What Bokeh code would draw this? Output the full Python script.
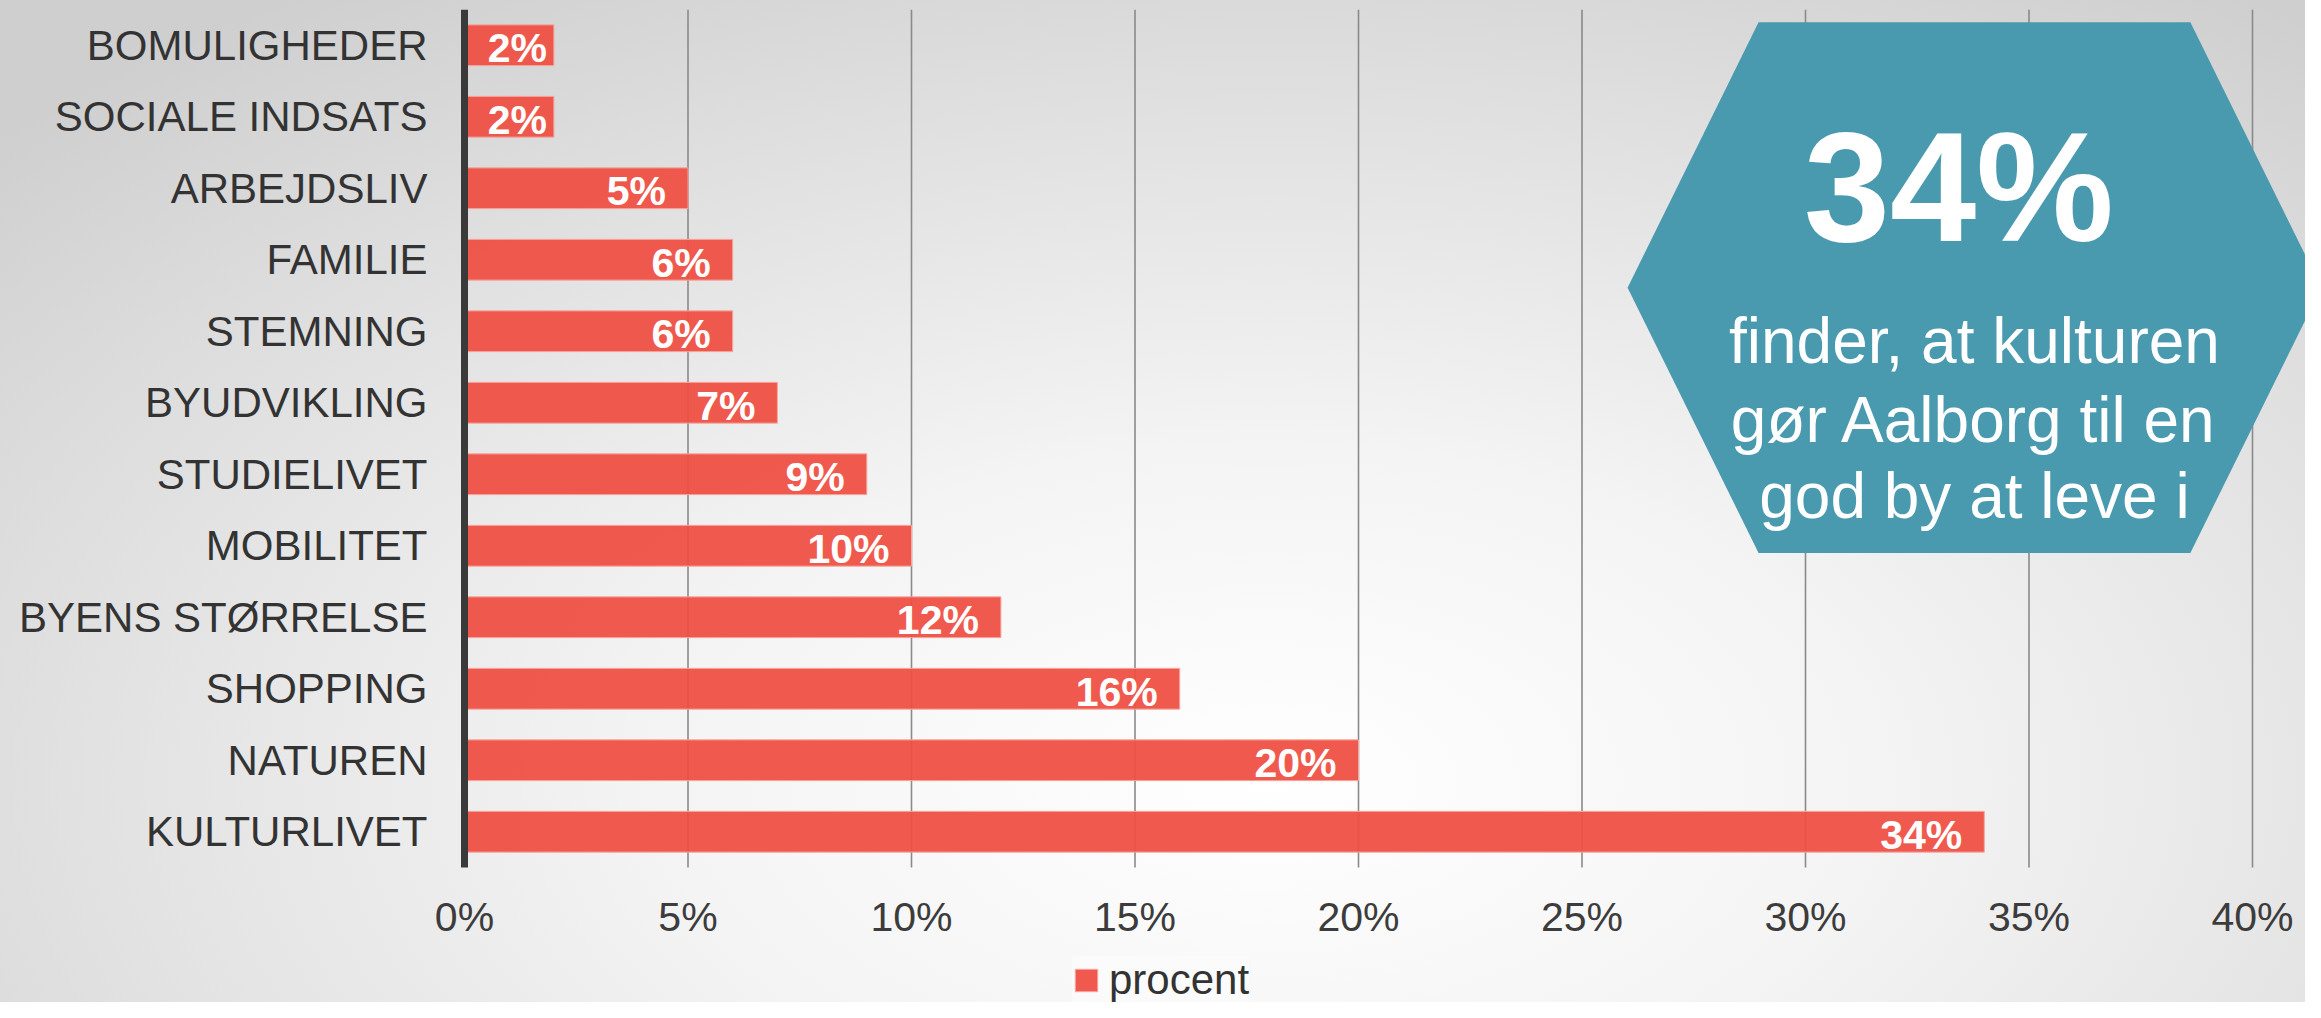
from bokeh.plotting import figure
from bokeh.models import Range1d, FixedTicker, Legend, LegendItem, ColumnDataSource
from bokeh.core.properties import value
from bokeh.embed import file_html
from bokeh.resources import INLINE

# ---------------- data ----------------
categories = ["KULTURLIVET", "NATUREN", "SHOPPING", "BYENS STØRRELSE", "MOBILITET",
              "STUDIELIVET", "BYUDVIKLING", "STEMNING", "FAMILIE", "ARBEJDSLIV",
              "SOCIALE INDSATS", "BOMULIGHEDER"]
percent = [34, 20, 16, 12, 10, 9, 7, 6, 6, 5, 2, 2]
x_ticks = [0, 5, 10, 15, 20, 25, 30, 35, 40]
x_tick_labels = ["0%", "5%", "10%", "15%", "20%", "25%", "30%", "35%", "40%"]
series_name = "procent"
callout_value = "34%"
callout_lines = ["finder, at kulturen", "gør Aalborg til en", "god by at leve i"]

# ---------------- layout ----------------
W, H = 2305, 1002
AXIS_X = 464          # pixel position of the 0% line
LABEL_RIGHT = 427     # right edge of category labels
FRAME_LEFT = 420
FRAME_TOP = 9
PX_PER_PCT = 44.7
PX_PER_ROW = 71.5
FONT = "Liberation Sans"
BAR_RED = "#EF5043"
TEAL = "#4A9AAF"

n = len(categories)
x_start = -(AXIS_X - FRAME_LEFT) / PX_PER_PCT
x_end = (W - AXIS_X) / PX_PER_PCT
y_top = n - 0.5
y_bottom = y_top - (H - FRAME_TOP) / PX_PER_ROW

p = figure(width=W, height=H, output_backend="svg", toolbar_location=None,
           x_range=Range1d(x_start, x_end), y_range=Range1d(y_bottom, y_top),
           min_border_left=FRAME_LEFT, min_border_right=0,
           min_border_top=FRAME_TOP, min_border_bottom=0)

p.background_fill_color = None
p.border_fill_color = None
p.outline_line_color = None
p.styles = {"background": "radial-gradient(ellipse 75% 95% at 55% 78%, #ffffff 0%, #f4f4f4 35%, #dedede 75%, #cfcfcf 100%)"}

ys = list(range(n))

# vertical grid lines (only over the category area)
grid_x = x_ticks[1:]
p.segment(x0=grid_x, y0=[-0.5] * len(grid_x), x1=grid_x, y1=[y_top] * len(grid_x),
          line_color="#8a8a8a", line_width=1.6)

src = ColumnDataSource(dict(
    y=ys, v=percent, cat=categories,
    txt=[f"{v}%" for v in percent],
    off=[-7 if v < 3 else -22 for v in percent],
))

bars = p.hbar(y="y", left=0, right="v", height=0.57, source=src,
              fill_color=BAR_RED, fill_alpha=0.94, line_color="#f6a79f", line_width=1)

p.text(x="v", y="y", text="txt", source=src, x_offset="off", y_offset=3,
       text_align="right", text_baseline="middle", text_color="white",
       text_font=value(FONT), text_font_style="bold", text_font_size="41px")

# category axis line
p.segment(x0=[0], y0=[-0.5], x1=[0], y1=[y_top], line_color="#3a3a3a", line_width=7)

# axes
p.yaxis.ticker = FixedTicker(ticks=ys)
p.yaxis.major_label_overrides = {i: c for i, c in zip(ys, categories)}
p.yaxis.axis_line_color = None
p.yaxis.major_tick_line_color = None
p.yaxis.major_tick_out = 0
p.yaxis.minor_tick_line_color = None
p.yaxis.major_label_standoff = FRAME_LEFT - LABEL_RIGHT
p.yaxis.major_label_text_font = FONT
p.yaxis.major_label_text_font_size = "42px"
p.yaxis.major_label_text_color = "#333333"

p.xaxis.fixed_location = -0.5
p.xaxis.ticker = FixedTicker(ticks=x_ticks)
p.xaxis.major_label_overrides = {t: l for t, l in zip(x_ticks, x_tick_labels)}
p.xaxis.axis_line_color = None
p.xaxis.major_tick_line_color = None
p.xaxis.major_tick_out = 0
p.xaxis.minor_tick_line_color = None
p.xaxis.major_label_standoff = 26
p.xaxis.major_label_text_font = FONT
p.xaxis.major_label_text_font_size = "41px"
p.xaxis.major_label_text_color = "#3c3c3c"

p.xgrid.grid_line_color = None
p.ygrid.grid_line_color = None

# callout hexagon
cx, cy = 33.78, 7.61
hw_top = 4.83   # half width of flat top/bottom edges (data units)
hw_mid = 7.76   # half width at the pointed middle
hh = 3.71       # half height
p.patch(x=[cx - hw_top, cx + hw_top, cx + hw_mid, cx + hw_top, cx - hw_top, cx - hw_mid],
        y=[cy + hh, cy + hh, cy, cy - hh, cy - hh, cy],
        fill_color=TEAL, line_color=None)

p.text(x=[cx - 0.35], y=[9.01], text=[callout_value], text_align="center",
       text_baseline="alphabetic", text_color="white", text_font=value(FONT),
       text_font_style="bold", text_font_size="155px")

line_y = [6.87, 5.76, 4.70]
p.text(x=[cx] * len(callout_lines), y=line_y, text=callout_lines, text_align="center",
       text_baseline="alphabetic", text_color="white", text_font=value(FONT),
       text_font_size="64px")

# legend
legend = Legend(items=[LegendItem(label=series_name, renderers=[bars])],
                location=(1072 - FRAME_LEFT, -2),
                orientation="horizontal",
                label_text_font=FONT, label_text_font_size="42px",
                label_text_color="#333333",
                glyph_width=28, glyph_height=28, label_standoff=9,
                padding=6, margin=0, spacing=0,
                background_fill_color="white", background_fill_alpha=0.4,
                border_line_color=None)
p.add_layout(legend, "center")

open("out.html", "w").write(file_html(p, INLINE))
